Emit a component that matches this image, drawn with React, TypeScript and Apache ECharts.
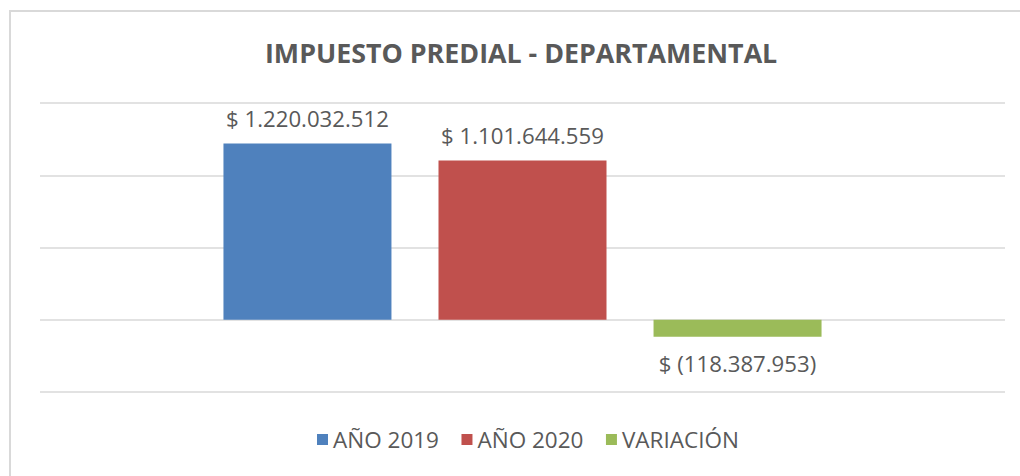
import React, { useEffect, useRef } from "react";
import * as echarts from "echarts";

const categories = ["IMPUESTO PREDIAL"];
const seriesNames = ["AÑO 2019", "AÑO 2020", "VARIACIÓN"];
const values2019 = [1220032512];
const values2020 = [1101644559];
const valuesVar = [-118387953];
const colors = ["#4F81BD", "#C0504D", "#9BBB59"];

function fmt(v: number): string {
  const s = Math.abs(Math.round(v))
    .toString()
    .replace(/\B(?=(\d{3})+(?!\d))/g, ".");
  return v < 0 ? `$ (${s})` : `$ ${s}`;
}

export default function App() {
  const ref = useRef<HTMLDivElement>(null);
  useEffect(() => {
    if (!ref.current) return;
    const chart = echarts.init(ref.current, undefined, { renderer: "svg" });
    const font = "Open Sans";
    const labelStyle = {
      show: true,
      color: "#595959",
      fontSize: 22.2,
      fontFamily: font,
      formatter: (p: any) => fmt(p.value),
    };
    const data = [values2019, values2020, valuesVar];
    chart.setOption({
      animation: false,
      backgroundColor: "#ffffff",
      title: {
        text: "IMPUESTO PREDIAL - DEPARTAMENTAL",
        left: 260,
        top: 34,
        textStyle: {
          color: "#595959",
          fontSize: 26.8,
          fontWeight: "bold",
          fontFamily: font,
        },
      },
      graphic: [
        {
          type: "rect",
          shape: { x: 10, y: 11, width: 1020, height: 480 },
          style: { fill: "none", stroke: "#d9d9d9", lineWidth: 2 },
          silent: true,
        },
      ],
      legend: {
        bottom: 20,
        left: 312,
        icon: "rect",
        itemWidth: 11,
        itemHeight: 11,
        itemGap: 22.5,
        textStyle: { color: "#595959", fontSize: 22.5, fontFamily: font },
        data: seriesNames,
      },
      grid: { left: 40, right: 15, top: 103, bottom: 84, containLabel: false },
      xAxis: {
        type: "category",
        data: categories,
        axisLine: { show: false },
        axisTick: { show: false },
        axisLabel: { show: false },
      },
      yAxis: {
        type: "value",
        min: -500000000,
        max: 1500000000,
        interval: 500000000,
        axisLabel: { show: false },
        axisLine: { show: false },
        axisTick: { show: false },
        splitLine: { lineStyle: { color: "#d9d9d9", width: 1.5 } },
      },
      series: seriesNames.map((name, i) => ({
        name,
        type: "bar",
        data: data[i],
        barWidth: 168,
        barGap: "28%",
        itemStyle: { color: colors[i] },
        label: {
          ...labelStyle,
          position: data[i][0] < 0 ? "bottom" : "top",
          distance: data[i][0] < 0 ? 16 : 14,
        },
      })),
    });
    return () => chart.dispose();
  }, []);
  return (
    <div
      ref={ref}
      style={{ position: "fixed", left: 0, top: 0, width: 1020, height: 476 }}
    />
  );
}
